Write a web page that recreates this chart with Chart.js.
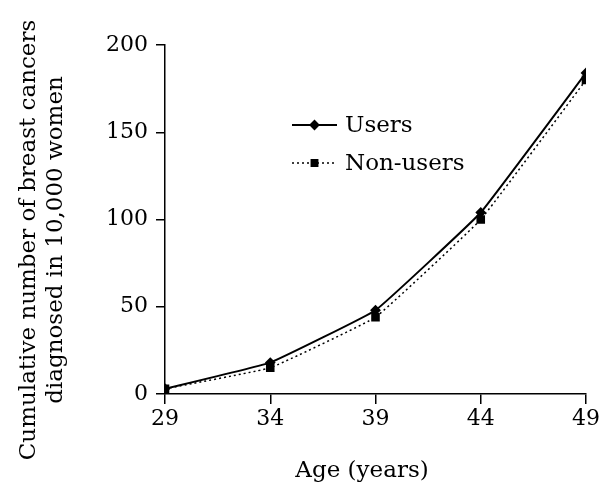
<!DOCTYPE html>
<html>
<head>
<meta charset="utf-8">
<script src="https://cdn.jsdelivr.net/npm/chart.js@4/dist/chart.umd.min.js"></script>
<style>
  html, body { margin: 0; padding: 0; background: #fff; }
  #wrap { width: 603px; height: 484px; }
</style>
</head>
<body>
<div id="wrap"><canvas id="chart" width="603" height="484"></canvas></div>
<script>
// Data
const ages = [29, 34, 39, 44, 49];
const users = [3, 18, 48, 104, 184];
const nonUsers = [3, 15, 44, 100, 180];
const yTicks = [0, 50, 100, 150, 200];

const FONT = "'DejaVu Serif', serif";

// Legend drawn inside the plot (line sample with marker in the middle) + axis titles
const annotations = {
  id: "annotations",
  afterDraw(chart) {
    const ctx = chart.ctx;
    const rows = [
      { label: "Users", dash: [], width: 2, style: "rectRot", r: 4 },
      { label: "Non-users", dash: [2, 3], width: 1.5, style: "rect", r: 4.5 }
    ];
    const x0 = 292, x1 = 337;
    rows.forEach((row, i) => {
      const y = 125 + i * 38;
      ctx.save();
      ctx.strokeStyle = "#000";
      ctx.lineWidth = row.width;
      ctx.setLineDash(row.dash);
      ctx.beginPath();
      ctx.moveTo(x0, y);
      ctx.lineTo(x1, y);
      ctx.stroke();
      ctx.setLineDash([]);
      ctx.fillStyle = "#000";
      Chart.helpers.drawPoint(ctx, { pointStyle: row.style, radius: row.r, borderWidth: 1 }, (x0 + x1) / 2, y);
      ctx.font = "23px " + FONT;
      ctx.textBaseline = "middle";
      ctx.fillText(row.label, 345, y + 1);
      ctx.restore();
    });

    // axis titles
    ctx.save();
    ctx.fillStyle = "#000";
    ctx.font = "23px " + FONT;
    ctx.textAlign = "center";
    ctx.textBaseline = "alphabetic";
    ctx.fillText("Age (years)", 362, 477);
    ctx.translate(0, 240);
    ctx.rotate(-Math.PI / 2);
    ctx.fillText("Cumulative number of breast cancers", 0, 35);
    ctx.fillText("diagnosed in 10,000 women", 0, 62);
    ctx.restore();
  }
};

new Chart(document.getElementById("chart").getContext("2d"), {
  type: "line",
  data: {
    datasets: [
      {
        label: "Users",
        data: ages.map((a, i) => ({ x: a, y: users[i] })),
        borderColor: "#000",
        backgroundColor: "#000",
        borderWidth: 2,
        pointStyle: "rectRot",
        pointRadius: 4,
        tension: 0.08
      },
      {
        label: "Non-users",
        data: ages.map((a, i) => ({ x: a, y: nonUsers[i] })),
        borderColor: "#000",
        backgroundColor: "#000",
        borderWidth: 1.5,
        borderDash: [2, 3],
        pointStyle: "rect",
        pointRadius: 5,
        tension: 0.08
      }
    ]
  },
  options: {
    responsive: false,
    animation: false,
    layout: { padding: { top: 45, right: 17, left: 0, bottom: 0 } },
    plugins: {
      legend: { display: false },
      tooltip: { enabled: false }
    },
    scales: {
      x: {
        type: "linear",
        min: ages[0],
        max: ages[ages.length - 1],
        afterBuildTicks: (s) => { s.ticks = ages.map(v => ({ value: v })); },
        afterFit: (s) => { s.height = 90; },
        border: { color: "#000", width: 1.5 },
        grid: { drawOnChartArea: false, color: "#000", tickLength: 10, lineWidth: 1.5 },
        ticks: { color: "#000", padding: 2, font: { family: FONT, size: 22 } }
      },
      y: {
        min: 0,
        max: 200,
        afterBuildTicks: (s) => { s.ticks = yTicks.map(v => ({ value: v })); },
        afterFit: (s) => { s.width = 165; },
        border: { color: "#000", width: 1.5 },
        grid: { drawOnChartArea: false, color: "#000", tickLength: 9, lineWidth: 1.5 },
        ticks: { color: "#000", padding: 8, font: { family: FONT, size: 22 } }
      }
    }
  },
  plugins: [annotations]
});
</script>
</body>
</html>
